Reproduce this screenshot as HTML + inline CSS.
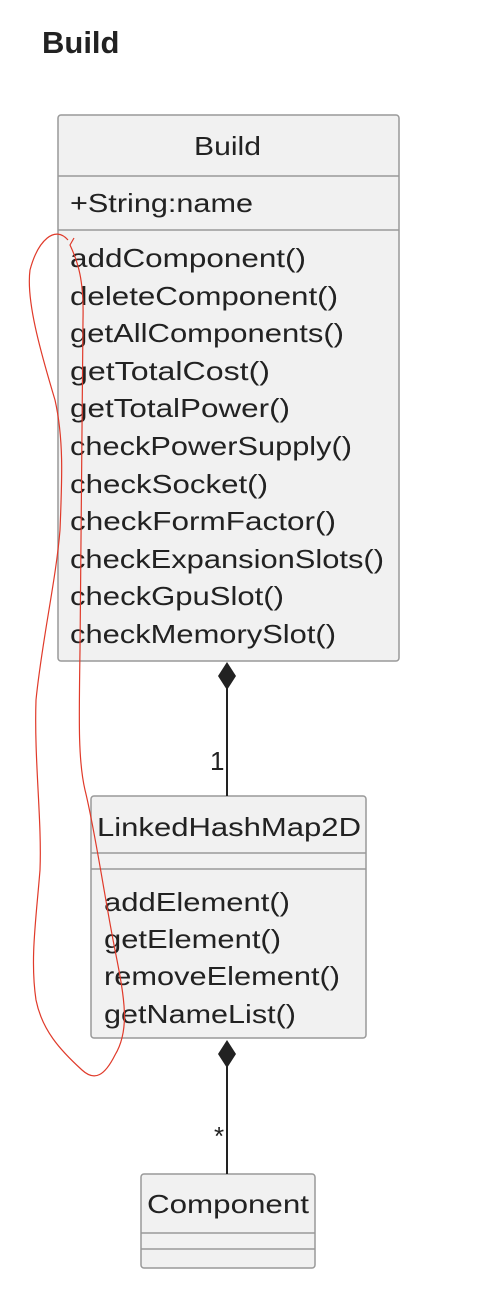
<!DOCTYPE html>
<html><head><style>
body{margin:0;width:490px;height:1308px;background:#fff;position:relative;overflow:hidden;font-family:"Liberation Sans",sans-serif}
.t{position:absolute;left:42px;top:25px;font-size:31px;font-weight:bold;color:#222}
svg{position:absolute;left:0;top:0}
text{font-family:"Liberation Sans",sans-serif;fill:#222}
</style></head><body>
<div class="t">Build</div>
<svg width="490" height="1308">
<g fill="#f1f1f1" stroke="#999" stroke-width="1.5">
<rect x="58" y="115" width="341" height="546" rx="3"/>
<rect x="91" y="796" width="275" height="242" rx="3"/>
<rect x="141" y="1174" width="174" height="94" rx="3"/>
</g>
<g stroke="#999" stroke-width="1.5">
<line x1="58" y1="176" x2="399" y2="176"/>
<line x1="58" y1="230" x2="399" y2="230"/>
<line x1="91" y1="853" x2="366" y2="853"/>
<line x1="91" y1="869" x2="366" y2="869"/>
<line x1="141" y1="1233" x2="315" y2="1233"/>
<line x1="141" y1="1249" x2="315" y2="1249"/>
</g>
<g stroke="#222" stroke-width="2">
<line x1="227" y1="688" x2="227" y2="796"/>
<line x1="227" y1="1066" x2="227" y2="1174"/>
</g>
<path d="M227 662 L236 676 L227 690 L218 676Z M227 1040 L236 1054 L227 1068 L218 1054Z" fill="#222"/>
<g font-size="26">
<text x="194" y="155" textLength="67" lengthAdjust="spacingAndGlyphs">Build</text>
<text x="70" y="212" textLength="183" lengthAdjust="spacingAndGlyphs">+String:name</text>
<text x="70" y="267" textLength="236" lengthAdjust="spacingAndGlyphs">addComponent()</text>
<text x="70" y="305" textLength="268" lengthAdjust="spacingAndGlyphs">deleteComponent()</text>
<text x="70" y="342" textLength="274" lengthAdjust="spacingAndGlyphs">getAllComponents()</text>
<text x="70" y="380" textLength="200" lengthAdjust="spacingAndGlyphs">getTotalCost()</text>
<text x="70" y="417" textLength="220" lengthAdjust="spacingAndGlyphs">getTotalPower()</text>
<text x="70" y="455" textLength="282" lengthAdjust="spacingAndGlyphs">checkPowerSupply()</text>
<text x="70" y="493" textLength="198" lengthAdjust="spacingAndGlyphs">checkSocket()</text>
<text x="70" y="530" textLength="266" lengthAdjust="spacingAndGlyphs">checkFormFactor()</text>
<text x="70" y="568" textLength="314" lengthAdjust="spacingAndGlyphs">checkExpansionSlots()</text>
<text x="70" y="605" textLength="214" lengthAdjust="spacingAndGlyphs">checkGpuSlot()</text>
<text x="70" y="643" textLength="266" lengthAdjust="spacingAndGlyphs">checkMemorySlot()</text>
<text x="97" y="836" textLength="264" lengthAdjust="spacingAndGlyphs">LinkedHashMap2D</text>
<text x="104" y="911" textLength="186" lengthAdjust="spacingAndGlyphs">addElement()</text>
<text x="104" y="948" textLength="177" lengthAdjust="spacingAndGlyphs">getElement()</text>
<text x="104" y="985" textLength="236" lengthAdjust="spacingAndGlyphs">removeElement()</text>
<text x="104" y="1023" textLength="192" lengthAdjust="spacingAndGlyphs">getNameList()</text>
<text x="147" y="1213" textLength="162" lengthAdjust="spacingAndGlyphs">Component</text>
<text x="210" y="770">1</text>
<text x="214" y="1145">*</text>
</g>
<path d="M68 240 C55 225 38 240 30 270 C26 300 40 350 55 400 C64 440 62 480 60 530 C56 580 42 640 36 700 C34 760 42 820 40 870 C36 920 30 960 36 1000 C42 1030 60 1050 82 1070 C95 1082 105 1075 115 1055 C130 1030 125 1000 115 950 C105 900 95 830 85 790 C78 760 79 720 80 650 C81 560 82 450 83 320 C84 280 78 262 70 245 L74 238" fill="none" stroke="#e03a2a" stroke-width="1.2"/>
</svg>
</body></html>
